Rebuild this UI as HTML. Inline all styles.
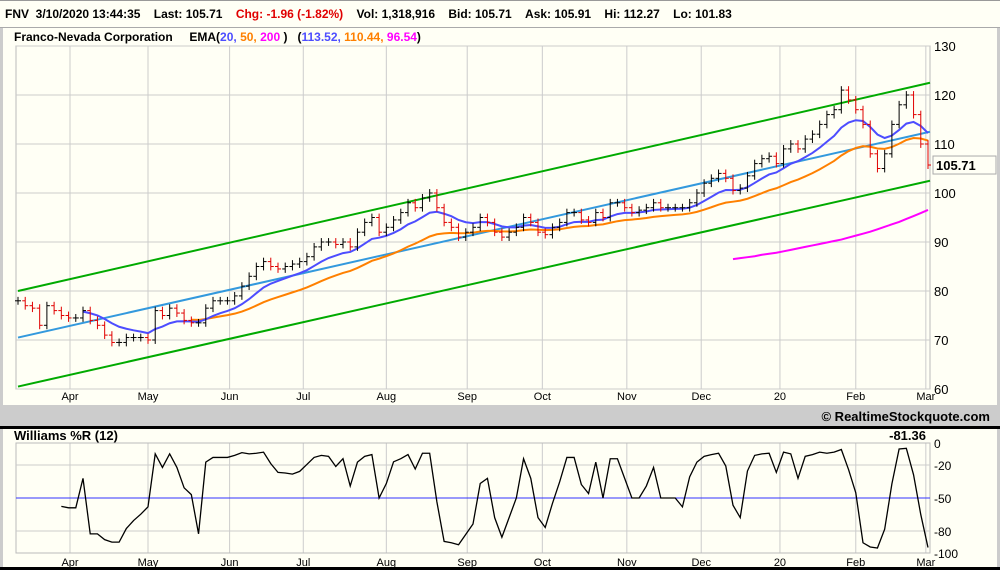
<!DOCTYPE html>
<html><head><meta charset="utf-8">
<style>
body{margin:0;width:1000px;height:570px;overflow:hidden;background:#fffff5;font-family:"Liberation Sans",sans-serif}
svg{display:block}
</style></head>
<body>
<svg width="1000" height="570" viewBox="0 0 1000 570" id="chart">
<rect x="0" y="0" width="1000" height="570" fill="#fffff5"/>
<rect x="0" y="0" width="1000" height="1" fill="#999"/>
<text x="5" y="18" font-size="12" font-weight="bold">FNV&#160;&#160;3/10/2020 13:44:35&#160;&#160;&#160;&#160;Last: 105.71&#160;&#160;&#160;&#160;<tspan fill="#e00000">Chg: -1.96 (-1.82%)</tspan>&#160;&#160;&#160;&#160;Vol: 1,318,916&#160;&#160;&#160;&#160;Bid: 105.71&#160;&#160;&#160;&#160;Ask: 105.91&#160;&#160;&#160;&#160;Hi: 112.27&#160;&#160;&#160;&#160;Lo: 101.83</text>
<rect x="0" y="27" width="1000" height="1" fill="#aaa"/>
<rect x="0" y="28" width="3" height="377" fill="#ccc"/>
<rect x="997" y="28" width="3" height="377" fill="#ccc"/>
<text x="14" y="41" font-size="12" font-weight="bold">Franco-Nevada Corporation&#160;&#160;&#160;&#160;&#160;EMA(<tspan fill="#4d4dff">20,</tspan> <tspan fill="#ff8000">50,</tspan> <tspan fill="#ff00ff">200</tspan> )&#160;&#160;&#160;(<tspan fill="#4d4dff">113.52,</tspan> <tspan fill="#ff8000">110.44,</tspan> <tspan fill="#ff00ff">96.54</tspan>)</text>
<g id="grid1"></g>
<g id="price"></g>
<rect x="0" y="405" width="1000" height="21" fill="#cccccc"/>
<text x="990" y="421" font-size="13" font-weight="bold" text-anchor="end">© RealtimeStockquote.com</text>
<rect x="0" y="426" width="1000" height="3" fill="#000"/>
<rect x="0" y="429" width="3" height="141" fill="#ccc"/>
<rect x="997" y="429" width="3" height="141" fill="#ccc"/>
<rect x="0" y="567" width="1000" height="3" fill="#000"/>
<text x="14" y="440" font-size="13" font-weight="bold">Williams %R (12)</text>
<text x="926" y="440" font-size="13" font-weight="bold" text-anchor="end">-81.36</text>
<g id="wr"></g>
</svg>
<script>
const closes=[78,77,76.5,73,77,76,75,74.5,74.5,76,74,73,71,69.5,69.5,70.5,70.5,70.5,70,76,75,76.5,75.5,74,73.5,73.5,76.5,78,78,78,79,81,83,85,86,85,84.5,85,85.5,86,87,89,90,90,89.5,90,89,92,94,95,92,93,94.5,96,98,97,99,100,97,94,93,91,92,93,95,94,92,91,92,93,95,94,92,91.5,93,94,96,96,94.5,94,96,95,98,98,97,96,96.5,97,98,97,97,97,97,98,100,102,103,104,103,100.5,101,103.5,106,107,107.5,106,109,110,109,111,112,114,116,117,121,119,117,114,108,105,108,114,118,120,116,110,105.71];
const ema200=[86.5,86.7,86.9,87.1,87.4,87.6,87.8,88.1,88.4,88.7,89,89.3,89.6,89.9,90.2,90.5,90.9,91.3,91.7,92.1,92.6,93.1,93.6,94.1,94.7,95.3,95.9,96.54];
const channelStart=[80,70.5,60.5];
const channelEnd=[122.5,112.5,102.5];
const priceTicks=[130,120,110,100,90,80,70,60];
const wrTicks=[0,-20,-50,-80,-100];
const months=["Apr","May","Jun","Jul","Aug","Sep","Oct","Nov","Dec","20","Feb","Mar"];
const monthIdx=[7.2,18,29.3,39.5,51,62.2,72.6,84.3,94.6,105.5,116,125.7];

const NS="http://www.w3.org/2000/svg";
const L=16,R=930,T1=46,B1=389,T2=443,B2=553;
const n=closes.length;
const xs=i=>18+i*(928-18)/(n-1);
const yp=v=>T1+(130-v)*(B1-T1)/70;
const yw=v=>T2+(0-v)*(B2-T2)/100;
function mk(tag,attrs,parent){const e=document.createElementNS(NS,tag);for(const k in attrs)e.setAttribute(k,attrs[k]);parent.appendChild(e);return e;}
const g1=document.getElementById('grid1'),gp=document.getElementById('price'),gw=document.getElementById('wr');

let fr=mk('rect',{x:L,y:T1,width:R-L,height:B1-T1,fill:'none',stroke:'#bbb'},g1);


priceTicks.forEach(v=>{
  let l=mk('line',{x1:L,x2:R,y1:yp(v),y2:yp(v),stroke:'#ccc'},g1);
  
  
  let t=mk('text',{x:934,y:yp(v)+5,'font-size':13},g1);t.textContent=v;
  
  
});
monthIdx.forEach((mi,k)=>{
  const x=xs(mi);
  let l=mk('line',{x1:x,x2:x,y1:T1,y2:B1,stroke:'#ccc'},g1);
  
  
  let t=mk('text',{x:x,y:400,'font-size':11,'text-anchor':'middle'},g1);t.textContent=months[k];
  
  
  let l2=mk('line',{x1:x,x2:x,y1:T2,y2:B2,stroke:'#ccc'},gw);
  
  
  let t2=mk('text',{x:x,y:566,'font-size':11,'text-anchor':'middle'},gw);t2.textContent=months[k];
  
  
});
let lb=mk('rect',{x:933,y:yp(105.71)-9,width:63,height:18,fill:'#fffff5',stroke:'#aaa'},g1);


let lt=mk('text',{x:936,y:yp(105.71)+5,'font-size':13,'font-weight':'bold'},g1);lt.textContent='105.71';



const chCols=['#00aa00','#3399dd','#00aa00'];
const chNames=['channel-upper','channel-mid','channel-lower'];
channelStart.forEach((s,k)=>{
  let l=mk('line',{x1:L+2,y1:yp(s),x2:R,y2:yp(channelEnd[k]),stroke:chCols[k],'stroke-width':2},gp);
  
  
});
function ema(p){const out=[];let e=closes[0];const a=2/(p+1);closes.forEach((c,i)=>{e=i?a*c+(1-a)*e:c;out.push(e);});return out;}
function poly(vals,start,col,name){
  const pts=[];for(let i=start;i<vals.length;i++)pts.push(xs(i)+','+yp(vals[i]));
  let p=mk('polyline',{points:pts.join(' '),fill:'none',stroke:col,'stroke-width':2},gp);
  
  
}
poly(ema(25),24,'#ff8000','ema-50-line');
poly(ema(10),9,'#4d4dff','ema-20-line');
{
  const off=n-ema200.length;const pts=ema200.map((v,i)=>xs(off+i)+','+yp(v));
  let p=mk('polyline',{points:pts.join(' '),fill:'none',stroke:'#ff00ff','stroke-width':2},gp);
  
  
}
const highs=[],lows=[];
closes.forEach((c,i)=>{
  const o=i?closes[i-1]:c;
  const hi=Math.max(o,c)+0.8,lo=Math.min(o,c)-0.8;highs.push(hi);lows.push(lo);
  const x=xs(i);const col=c<o?'#e00000':'#000';
  const g=mk('g',{stroke:col,'stroke-width':1},gp);
  
  
  mk('line',{x1:x,x2:x,y1:yp(hi),y2:yp(lo)},g);
  mk('line',{x1:x-3,x2:x,y1:yp(o),y2:yp(o)},g);
  mk('line',{x1:x,x2:x+3,y1:yp(c),y2:yp(c)},g);
});

let fr2=mk('rect',{x:L,y:T2,width:R-L,height:B2-T2,fill:'none',stroke:'#bbb'},gw);


wrTicks.forEach(v=>{
  if(v!==0&&v!==-100&&v!==-50){let l=mk('line',{x1:L,x2:R,y1:yw(v),y2:yw(v),stroke:'#ccc'},gw);
  
  }
  let t=mk('text',{x:934,y:yw(v)+5,'font-size':12},gw);t.textContent=v;
  
  
});
let ml=mk('line',{x1:L,x2:R,y1:yw(-50),y2:yw(-50),stroke:'#3333ff'},gw);


const P=6,wpts=[];
for(let i=P;i<n;i++){
  let hh=-1e9,ll=1e9;for(let j=i-P+1;j<=i;j++){hh=Math.max(hh,highs[j]);ll=Math.min(ll,lows[j]);}
  const w=(hh-closes[i])/(hh-ll)*-100;wpts.push(xs(i)+','+yw(w));
}
let wl=mk('polyline',{points:wpts.join(' '),fill:'none',stroke:'#000','stroke-width':1.3},gw);


</script>
</body></html>
